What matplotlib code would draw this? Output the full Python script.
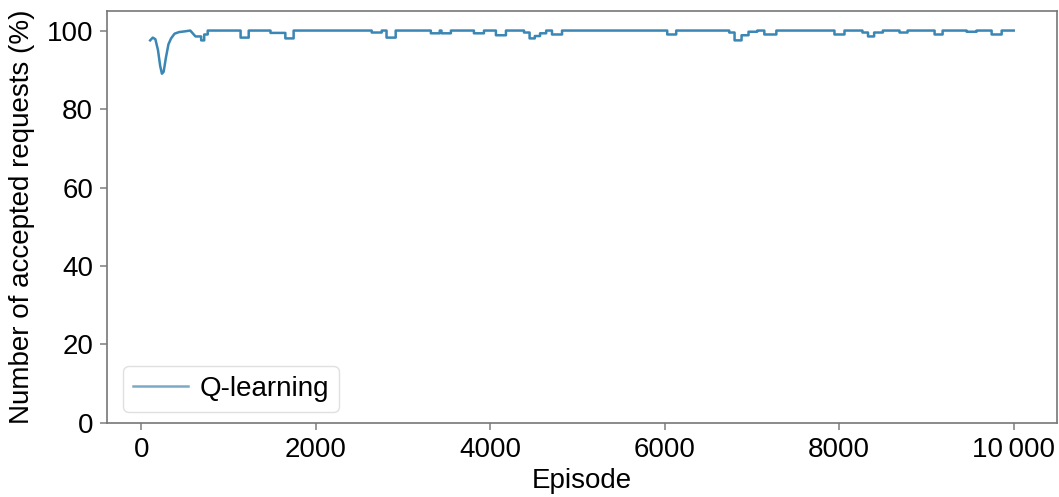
import matplotlib.pyplot as plt
from matplotlib.ticker import FuncFormatter

plt.rcParams['font.family'] = ['Liberation Sans', 'DejaVu Sans']

# early, smooth part of the curve (episode, % accepted)
early_ep = [100, 130, 160, 190, 215, 235, 255, 280, 310, 340, 380, 430, 500, 560, 620]
early_val = [97.5, 98.2, 97.8, 95.0, 91.0, 89.0, 89.5, 93.0, 96.5, 98.0, 99.2, 99.6, 99.8, 100, 100]

# later dips below 100 % (start episode, end episode, level)
dip_start = [620, 685, 720, 1137, 1480, 1650, 2640, 2810, 3318, 3440, 3812, 4064,
             4386, 4450, 4510, 4570, 4707, 6028, 6739, 6800, 6880, 6960, 7141, 7945,
             8266, 8330, 8400, 8691, 9093, 9460, 9747]
dip_end = [685, 720, 760, 1230, 1650, 1745, 2755, 2915, 3420, 3548, 3927, 4179,
           4450, 4510, 4570, 4640, 4822, 6131, 6800, 6880, 6960, 7060, 7279, 8060,
           8330, 8400, 8500, 8783, 9185, 9575, 9862]
dip_level = [98.5, 97.5, 99.0, 98.2, 99.4, 98.0, 99.5, 98.2, 99.3, 99.3, 99.3, 98.8,
             99.5, 98.0, 98.6, 99.3, 99.0, 99.0, 99.5, 97.5, 98.8, 99.7, 99.0, 99.0,
             99.5, 98.5, 99.5, 99.5, 99.0, 99.7, 99.0]
last_episode = 10000

x = list(early_ep[:-1])
y = list(early_val[:-1])
pos = early_ep[-1]
for s, e, l in zip(dip_start, dip_end, dip_level):
    if s > pos:
        x += [pos, s]
        y += [100, 100]
    x += [s, e]
    y += [l, l]
    pos = e
x += [pos, last_episode]
y += [100, 100]

fig = plt.figure(figsize=(10.59, 4.97), dpi=100)
ax = fig.add_axes([0.101, 0.149, 0.897, 0.829])
ax.plot(x, y, color='#3a86b4', lw=1.8, label='Q-learning')

ax.set_ylim(0, 105)
ax.set_yticks([0, 20, 40, 60, 80, 100])
ax.set_xticks([0, 2000, 4000, 6000, 8000, 10000])
ax.xaxis.set_major_formatter(FuncFormatter(
    lambda v, p: f'{int(v):,}'.replace(',', '\u2009') if v >= 10000 else f'{int(v)}'))
ax.set_xlabel('Episode', fontsize=20, labelpad=4)
ax.set_ylabel('Number of accepted requests (%)', fontsize=20, labelpad=8)
ax.tick_params(labelsize=20, color='#888888', length=5, width=1.2, pad=5)
for sp in ax.spines.values():
    sp.set_color('#777777')
    sp.set_linewidth(1.2)

leg = ax.legend(loc='lower left', fontsize=20, handlelength=2.0,
                handletextpad=0.4, borderpad=0.35, borderaxespad=0,
                fancybox=True, framealpha=1, bbox_to_anchor=(0.017, 0.027))
leg.get_frame().set_edgecolor('#e0e0e0')
leg.get_lines()[0].set_color('#7aaac6')

fig.savefig('out.png')
